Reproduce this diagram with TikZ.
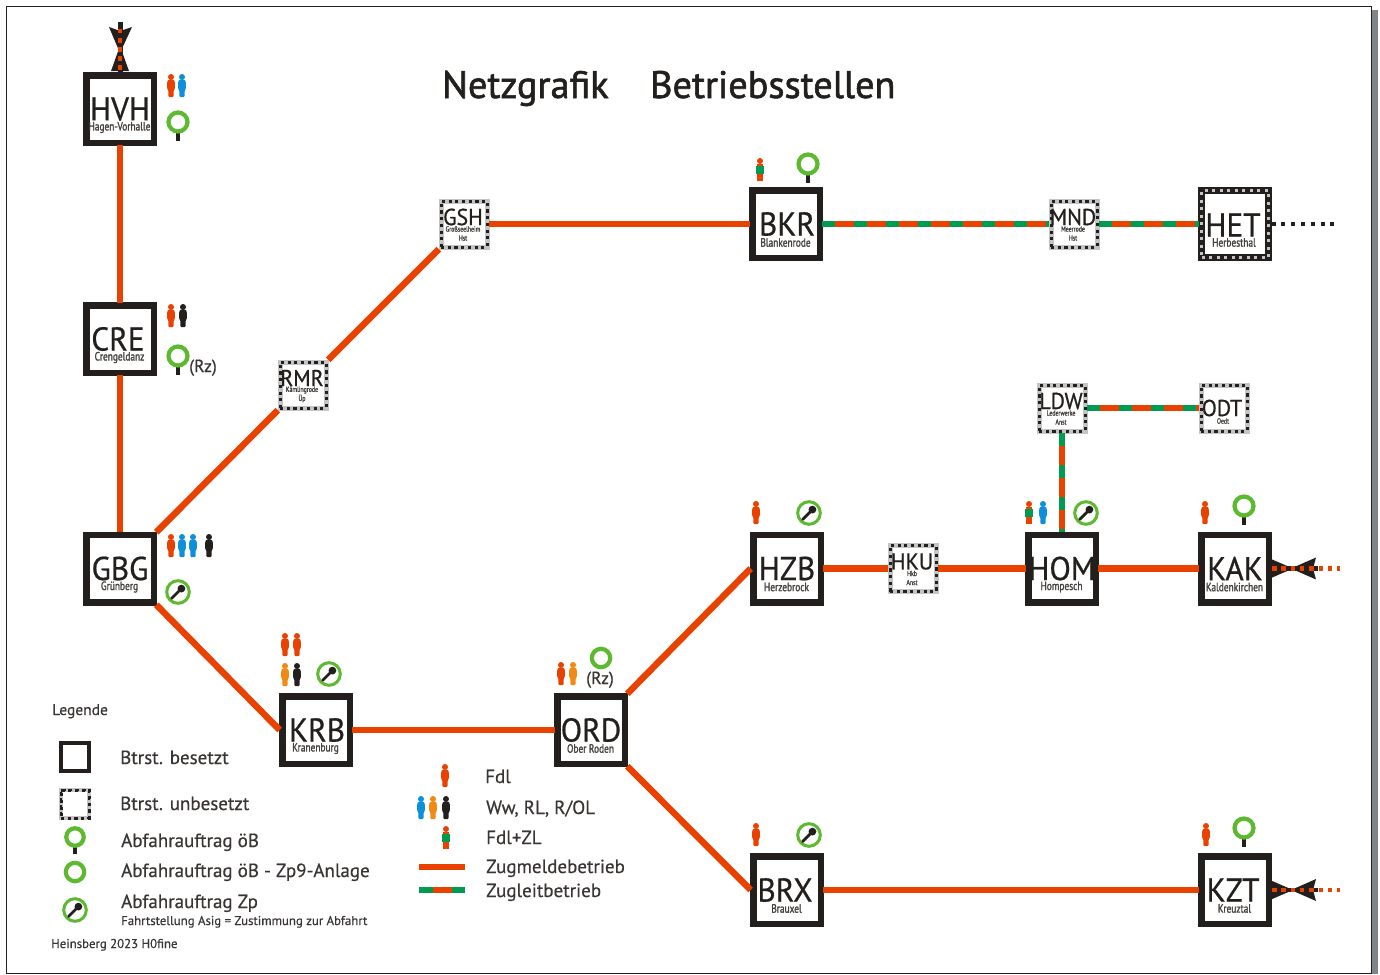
\documentclass[tikz,border=0pt]{standalone}
\usepackage{fontspec}
\setmainfont[FakeBold=0.5]{PT Sans}
\newfontfamily\titlefont[FakeBold=1.5]{PT Sans}
\newfontfamily\codefont[FakeStretch=0.95,FakeBold=0.6]{PT Sans}
\newfontfamily\subfont[FakeStretch=0.78,FakeBold=1.5]{PT Sans}
\definecolor{zred}{HTML}{E94200}
\definecolor{zgreen}{HTML}{009B50}
\definecolor{zblue}{HTML}{0E8FDC}
\definecolor{zorange}{HTML}{F08A12}
\definecolor{zblack}{HTML}{231F1C}
\definecolor{ringgreen}{HTML}{5DB92F}
\definecolor{framegray}{HTML}{C4C4C4}
\definecolor{shadowgray}{HTML}{7F8589}
\tikzset{
  occ/.style={rectangle,draw=zblack,fill=white,line width=6.5,minimum size=67.5,inner sep=0,outer sep=2.6},
  unocc/.style={rectangle,draw=framegray,fill=white,line width=5,minimum size=46,inner sep=0,outer sep=2.2,
    postaction={draw=zblack,line width=3,dash pattern=on 3.2 off 3.5}},
  unoccbig/.style={rectangle,draw=zblack,fill=white,line width=7,minimum size=67,inner sep=0,outer sep=3,
    postaction={draw=framegray,line width=3.6,dash pattern=on 3 off 4.5}},
  legocc/.style={occ,line width=3.8,minimum size=28.5,outer sep=0},
  legunocc/.style={unocc,line width=4,minimum size=28,outer sep=0,postaction={draw=zblack,line width=2.6,dash pattern=on 3 off 3.6}},
  codetext/.style={font=\codefont\fontsize{33}{33}\selectfont,text=zblack,inner sep=0,anchor=center},
  codesmall/.style={font=\codefont\fontsize{23}{23}\selectfont,text=zblack,inner sep=0,anchor=center},
  subtext/.style={font=\subfont\fontsize{12}{12}\selectfont,text=zblack!85,inner sep=0,anchor=center},
  subsmall/.style={font=\subfont\fontsize{7.5}{9}\selectfont,text=zblack!85,inner sep=0,anchor=center,align=center},
  lab/.style={font=\fontsize{19}{19}\selectfont,text=zblack!90,inner sep=0,anchor=base west},
  labsmall/.style={font=\fontsize{12.8}{12.8}\selectfont,text=zblack!90,inner sep=0,anchor=base west},
  zm/.style={zred,line width=6.5},
  zlg/.style={zgreen,line width=6.5},
  zlr/.style={zred,line width=6.5,dash pattern=on 19 off 13,dash phase=19},
  blackdots/.style={zblack,line width=4,dash pattern=on 4 off 5.8},
  reddots/.style={zred,line width=4.5,dash pattern=on 4.5 off 4.8}
}
\newcommand{\bigst}[6][0]{% code shift, id, x, y, code, sub
  \node[occ] (#2) at (#3,#4) {};
  \node[codetext] (#2code) at (#3+#1,#4) {#5};
  \node[subtext] (#2sub) at (#3-0.5,#4+18.5) {#6};}
\newcommand{\smallst}[5]{% id, x, y, code, sub
  \node[unocc] (#1) at (#2,#3) {};
  \node[codesmall] (#1code) at (#2-1,#3-7) {#4};
  \node[subsmall] (#1sub) at (#2-1,#3+9.5) {#5};}
\newcommand{\person}[3]{% x, bottom y, colour
  \begin{scope}[shift={(#1,#2)}]
    \fill[#3] (0,-20) circle (3);
    \fill[#3,rounded corners=1] (-2.7,0)--(-2.7,-7)--(-3.9,-8)--(-3.9,-15)--(-2.6,-17.5)--(2.6,-17.5)--(3.9,-15)--(3.9,-8)--(2.7,-7)--(2.7,0)--cycle;
  \end{scope}}
\newcommand{\personzl}[2]{% x, bottom y
  \begin{scope}[shift={(#1,#2)}]
    \fill[zred] (0,-20) circle (3);
    \fill[zred] (-2.7,0)--(-2.7,-17.5)--(2.7,-17.5)--(2.7,0)--cycle;
    \fill[zgreen] (-3.9,-7.5) rectangle (3.9,-15.5);
  \end{scope}}
\newcommand{\sigb}[2]{% x, y of ring centre
  \draw[zblack,line width=3.6] (#1,#2+10) -- (#1,#2+19);
  \draw[ringgreen,line width=4.2] (#1,#2) circle (9.5);}
\newcommand{\ring}[2]{\draw[ringgreen,line width=4.2] (#1,#2) circle (9.2);}
\newcommand{\zp}[2]{% x, y
  \begin{scope}[shift={(#1,#2)}]
    \draw[ringgreen,line width=3] (0,0) circle (11.3);
    \draw[zblack,line width=2.8,line cap=round] (-6.5,6.5) -- (3,-3);
    \fill[zblack] (3.4,-3.4) circle (3.9);
  \end{scope}}
\newcommand{\stubright}[2]{% id of station, y
  \coordinate (#1stub) at (1272,#2);
  \coordinate (#1end) at (1340,#2);
  \fill[zblack] (1271,#2-9.5) -- (1293,#2) -- (1271,#2+9.5) -- cycle;
  \fill[zblack] (1291,#2) -- (1316,#2-11) -- (1313,#2) -- (1316,#2+11) -- cycle;
  \draw[zblack,line width=4.5] (#1stub) -- (1318,#2);
  \draw[reddots] (#1stub) -- (#1end);}
\begin{document}
\begin{tikzpicture}[x=1pt,y=-1pt]
\useasboundingbox (0,0) rectangle (1380,974);
% page
\fill[white] (0,0) rectangle (1380,974);
\fill[shadowgray] (1371,10) rectangle (1378,974);
\draw[zblack,line width=1] (6,7) rectangle (1371,973);
% stations
\bigst{HVH}{120}{109}{HVH}{Hagen-Vorhalle}
\bigst[-2]{CRE}{120}{339}{CRE}{Crengeldanz}
\bigst{GBG}{120}{568.5}{GBG}{Grünberg}
\bigst[1]{KRB}{316}{730}{KRB}{Kranenburg}
\bigst{ORD}{591}{730}{ORD}{Ober Roden}
\bigst{HZB}{787}{568.5}{HZB}{Herzebrock}
\bigst{HOM}{1062}{568.5}{HOM}{Hompesch}
\bigst{KAK}{1235}{568.5}{KAK}{Kaldenkirchen}
\bigst[-2]{BRX}{787}{890}{BRX}{Brauxel}
\bigst[-2]{KZT}{1235}{890}{KZT}{Kreuztal}
\bigst[1]{BKR}{786}{224}{BKR}{Blankenrode}
\node[unoccbig] (HET) at (1235,224) {};
\node[codetext] (HETcode) at (1233,225) {HET};
\node[subtext] (HETsub) at (1234,242.5) {Herbesthal};
\smallst{GSH}{464}{224}{GSH}{Großseelheim\\Hst}
\smallst{RMR}{303}{385}{RMR}{Kämlingrode\\Üp}
\smallst{MND}{1074}{224}{MND}{Meerrode\\Hst}
\smallst{HKU}{913}{568.5}{HKU}{Hkb\\Anst}
\smallst{LDW}{1062}{408}{LDW}{Lederwerke\\Anst}
\node[unocc] (ODT) at (1224,408) {};
\node[codesmall] (ODTcode) at (1222,408) {ODT};
\node[subsmall] (ODTsub) at (1223,421) {Oedt};
% Zugmeldebetrieb
\draw[zm] (HVH) -- (CRE);
\draw[zm] (CRE) -- (GBG);
\draw[zm] (GBG.north east) -- (RMR.south west);
\draw[zm] (RMR.north east) -- (GSH.south west);
\draw[zm] (GSH) -- (BKR);
\draw[zm] (GBG.south east) -- (KRB.west);
\draw[zm] (KRB) -- (ORD);
\draw[zm] (ORD.north east) -- (HZB.west);
\draw[zm] (ORD.south east) -- (BRX.west);
\draw[zm] (HZB) -- (HKU);
\draw[zm] (HKU) -- (HOM);
\draw[zm] (HOM) -- (KAK);
\draw[zm] (BRX) -- (KZT);
% Zugleitbetrieb
\draw[zlg] (BKR) -- (MND); \draw[zlr] (BKR) -- (MND);
\draw[zlg] (MND) -- (HET); \draw[zlr] (MND) -- (HET);
\draw[zlg] (LDW) -- (ODT); \draw[zlr] (LDW) -- (ODT);
\draw[zlg] (LDW) -- (HOM); \draw[zlr] (LDW) -- (HOM);
% stubs
\coordinate (HETend) at (1340,224);
\draw[blackdots] (HET) -- (HETend);
\stubright{KAK}{568.5}
\stubright{KZT}{890}
\coordinate (HVHtop) at (120,22);
\fill[zblack] (109,27) -- (120,31) -- (132,27) -- (120,53) -- cycle;
\fill[zblack] (120,46) -- (129,71) -- (111,71) -- cycle;
\draw[zblack,line width=5] (HVHtop) -- (HVH);
\draw[zred,line width=4.5,dash pattern=on 4.5 off 4.6] (120,29) -- (HVH.north);
% persons
\person{171}{97}{zred}\person{182}{97}{zblue}
\person{171}{327}{zred}\person{183}{327}{zblack}
\person{171}{557}{zred}\person{182}{557}{zblue}\person{193}{557}{zblue}\person{209}{557}{zblack}
\person{285}{656}{zred}\person{297}{656}{zred}
\person{285}{686}{zorange}\person{297}{686}{zblack}
\person{561}{685}{zred}\person{573}{685}{zorange}
\personzl{760}{181}
\person{756}{524}{zred}
\personzl{1029}{524}\person{1043}{524}{zblue}
\person{1205}{524}{zred}
\person{756}{846}{zred}
\person{1206}{846}{zred}
% signals
\sigb{178}{122}
\sigb{178}{356}
\sigb{808}{164}
\sigb{1244}{506}
\sigb{1244}{828}
\ring{601}{658}
\zp{178}{592}\zp{329}{674}\zp{809}{513}\zp{1086}{513}\zp{809}{835}
% extra labels
\node[font=\fontsize{17.5}{17.5}\selectfont,text=zblack!90,inner sep=0,anchor=base west] (rza) at (189,372) {(Rz)};
\node[font=\fontsize{17.5}{17.5}\selectfont,text=zblack!90,inner sep=0,anchor=base] (rzb) at (600,684) {(Rz)};
% title
\node[font=\titlefont\fontsize{38.3}{38.3}\selectfont,text=zblack,inner sep=0,anchor=base west] (t1) at (442,98) {Netzgrafik};
\node[font=\titlefont\fontsize{38.3}{38.3}\selectfont,text=zblack,inner sep=0,anchor=base west] (t2) at (650,98) {Betriebsstellen};
% legend left
\node[font=\fontsize{15.5}{15.5}\selectfont,text=zblack!90,inner sep=0,anchor=base west] (leg) at (52,715) {Legende};
\node[legocc] (l1) at (75,757) {};
\node[lab] (l1t) at (120,764) {Btrst. besetzt};
\node[legunocc] (l2) at (75,804) {};
\node[lab] (l2t) at (120,810) {Btrst. unbesetzt};
\begin{scope}[shift={(75,837)},scale=0.92]\sigb{0}{0}\end{scope}
\node[lab] (l3t) at (121,847) {Abfahrauftrag öB};
\ring{75}{872}
\node[lab] (l4t) at (121,877) {Abfahrauftrag öB - Zp9-Anlage};
\zp{75}{910}
\node[lab] (l5t) at (121,908) {Abfahrauftrag Zp};
\node[labsmall] (l6t) at (121,925) {Fahrtstellung Asig = Zustimmung zur Abfahrt};
\node[labsmall] (l7t) at (51,948) {Heinsberg 2023 H0fine};
% legend middle
\person{445}{787}{zred}
\node[lab] (m1) at (485,783) {Fdl};
\person{421}{819}{zblue}\person{433}{819}{zorange}\person{446}{819}{zblack}
\node[lab] (m2) at (486,814) {Ww, RL, R/OL};
\personzl{446}{849}
\node[lab] (m3) at (486,844) {Fdl+ZL};
\coordinate (m4a) at (419,867); \coordinate (m4b) at (465,867);
\draw[zm] (m4a) -- (m4b);
\node[lab] (m4) at (486,873) {Zugmeldebetrieb};
\coordinate (m5a) at (419,890); \coordinate (m5b) at (465,890);
\draw[zlg] (m5a) -- (m5b);
\draw[zred,line width=6.5] (433,890) -- (452,890);
\node[lab] (m5) at (486,897) {Zugleitbetrieb};
\end{tikzpicture}
\end{document}
